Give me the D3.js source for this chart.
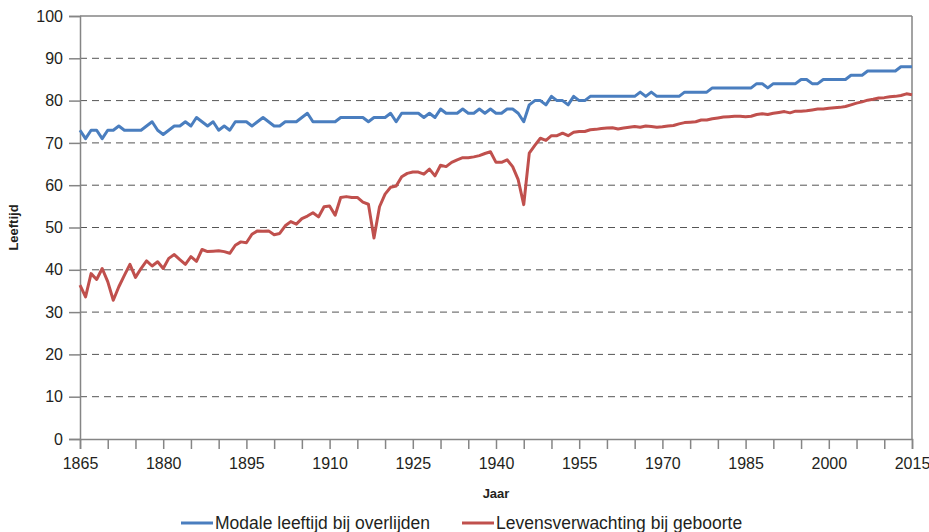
<!DOCTYPE html>
<html>
<head>
<meta charset="utf-8">
<script src="https://cdn.jsdelivr.net/npm/d3@7"></script>
<style>
  body { margin: 0; background: #fff; }
  svg { display: block; font-family: "Liberation Sans", Arial, sans-serif; }
</style>
</head>
<body>
<svg id="chart" width="929" height="532"></svg>
<script>
// jaren 1865 - 2015
var firstYear = 1865;
var lastYear = 2015;

var modaleLeeftijd = [
  73, 71, 73, 73, 71, 73, 73, 74, 73, 73, // 1865-1874
  73, 73, 74, 75, 73, 72, 73, 74, 74, 75, // 1875-1884
  74, 76, 75, 74, 75, 73, 74, 73, 75, 75, // 1885-1894
  75, 74, 75, 76, 75, 74, 74, 75, 75, 75, // 1895-1904
  76, 77, 75, 75, 75, 75, 75, 76, 76, 76, // 1905-1914
  76, 76, 75, 76, 76, 76, 77, 75, 77, 77, // 1915-1924
  77, 77, 76, 77, 76, 78, 77, 77, 77, 78, // 1925-1934
  77, 77, 78, 77, 78, 77, 77, 78, 78, 77, // 1935-1944
  75, 79, 80, 80, 79, 81, 80, 80, 79, 81, // 1945-1954
  80, 80, 81, 81, 81, 81, 81, 81, 81, 81, // 1955-1964
  81, 82, 81, 82, 81, 81, 81, 81, 81, 82, // 1965-1974
  82, 82, 82, 82, 83, 83, 83, 83, 83, 83, // 1975-1984
  83, 83, 84, 84, 83, 84, 84, 84, 84, 84, // 1985-1994
  85, 85, 84, 84, 85, 85, 85, 85, 85, 86, // 1995-2004
  86, 86, 87, 87, 87, 87, 87, 87, 88, 88, // 2005-2014
  88                                      // 2015
];

var levensverwachting = [
  36.4, 33.6, 39.1, 37.7, 40.3, 37.2, 32.8, 36.0, 38.7, 41.3, // 1865-1874
  38.2, 40.3, 42.1, 40.9, 41.9, 40.3, 42.7, 43.6, 42.4, 41.3, // 1875-1884
  43.1, 42.0, 44.8, 44.3, 44.4, 44.5, 44.3, 43.9, 45.8, 46.6, // 1885-1894
  46.4, 48.4, 49.2, 49.1, 49.2, 48.3, 48.6, 50.4, 51.4, 50.8, // 1895-1904
  52.1, 52.7, 53.5, 52.5, 54.9, 55.1, 52.9, 57.1, 57.3, 57.1, // 1905-1914
  57.1, 56.0, 55.5, 47.5, 54.9, 57.9, 59.5, 59.8, 62.0, 62.8, // 1915-1924
  63.1, 63.1, 62.6, 63.8, 62.2, 64.7, 64.4, 65.4, 66.0, 66.5, // 1925-1934
  66.5, 66.7, 67.0, 67.5, 67.9, 65.4, 65.4, 66.0, 64.4, 61.3, // 1935-1944
  55.4, 67.6, 69.4, 71.1, 70.6, 71.7, 71.7, 72.3, 71.7, 72.5, // 1945-1954
  72.7, 72.7, 73.1, 73.2, 73.4, 73.5, 73.6, 73.3, 73.5, 73.7, // 1955-1964
  73.9, 73.7, 74.0, 73.9, 73.7, 73.8, 74.0, 74.1, 74.5, 74.8, // 1965-1974
  74.9, 75.0, 75.4, 75.4, 75.7, 75.9, 76.1, 76.2, 76.3, 76.3, // 1975-1984
  76.2, 76.3, 76.7, 76.9, 76.7, 77.0, 77.2, 77.4, 77.1, 77.5, // 1985-1994
  77.5, 77.6, 77.8, 78.0, 78.0, 78.2, 78.3, 78.4, 78.6, 79.0, // 1995-2004
  79.4, 79.7, 80.1, 80.3, 80.6, 80.7, 80.9, 81.0, 81.2, 81.6, // 2005-2014
  81.4                                                        // 2015
];

var xTickLabels = [1865, 1880, 1895, 1910, 1925, 1940, 1955, 1970, 1985, 2000, 2015];
var yTicks = [0, 10, 20, 30, 40, 50, 60, 70, 80, 90, 100];
var seriesNames = ["Modale leeftijd bij overlijden", "Levensverwachting bij geboorte"];
var seriesColors = ["#4a7ebf", "#c0504d"];

var margin = { top: 16, right: 17, bottom: 93, left: 80 };
var svg = d3.select("#chart");
var width = +svg.attr("width");
var height = +svg.attr("height");

var x = d3.scaleLinear()
  .domain([firstYear, lastYear])
  .range([margin.left, width - margin.right]);

var y = d3.scaleLinear()
  .domain([0, 100])
  .range([height - margin.bottom, margin.top]);

var axisColor = "#858585";
var textColor = "#231f20";

// gridlines (dashed)
svg.append("g")
  .selectAll("line")
  .data(yTicks.filter(d => d > 0 && d < 100))
  .enter()
  .append("line")
  .attr("x1", x(firstYear))
  .attr("x2", x(lastYear))
  .attr("y1", d => y(d))
  .attr("y2", d => y(d))
  .attr("stroke", "#555")
  .attr("stroke-width", 1)
  .attr("stroke-dasharray", "7,5");

// top and right border
svg.append("line")
  .attr("x1", x(firstYear)).attr("x2", x(lastYear))
  .attr("y1", y(100)).attr("y2", y(100))
  .attr("stroke", axisColor).attr("stroke-width", 1.5);
svg.append("line")
  .attr("x1", x(lastYear)).attr("x2", x(lastYear))
  .attr("y1", y(100)).attr("y2", y(0))
  .attr("stroke", axisColor).attr("stroke-width", 1.5);

// axes
var xTickValues = d3.range(firstYear, lastYear + 1, 5);
var xAxis = d3.axisBottom(x)
  .tickValues(xTickValues)
  .tickSize(10)
  .tickFormat(d => xTickLabels.includes(d) ? d : "");

var yAxis = d3.axisLeft(y)
  .tickValues(yTicks)
  .tickSize(11)
  .tickPadding(6);

var gx = svg.append("g")
  .attr("transform", `translate(0,${y(0)})`)
  .call(xAxis);
var gy = svg.append("g")
  .attr("transform", `translate(${x(firstYear)},0)`)
  .call(yAxis);

[gx, gy].forEach(g => {
  g.select(".domain").attr("stroke", axisColor).attr("stroke-width", 1.5);
  g.selectAll(".tick line").attr("stroke", axisColor).attr("stroke-width", 1.5);
  g.selectAll(".tick text")
    .attr("fill", textColor)
    .style("font-size", "16px")
    .style("font-family", "'Liberation Sans', Arial, sans-serif");
});
gx.selectAll(".tick text").attr("dy", "1.05em");

// axis labels
svg.append("text")
  .attr("transform", "rotate(-90)")
  .attr("x", -(y(0) + y(100)) / 2)
  .attr("y", 18)
  .attr("text-anchor", "middle")
  .attr("fill", textColor)
  .style("font-size", "13px")
  .style("font-weight", "bold")
  .text("Leeftijd");

svg.append("text")
  .attr("x", (x(firstYear) + x(lastYear)) / 2)
  .attr("y", 498)
  .attr("text-anchor", "middle")
  .attr("fill", textColor)
  .style("font-size", "13px")
  .style("font-weight", "bold")
  .text("Jaar");

// lines
var years = d3.range(firstYear, lastYear + 1);
var line = d3.line()
  .x((d, i) => x(years[i]))
  .y(d => y(d));

[modaleLeeftijd, levensverwachting].forEach((series, i) => {
  svg.append("path")
    .datum(series)
    .attr("fill", "none")
    .attr("stroke", seriesColors[i])
    .attr("stroke-width", 3)
    .attr("stroke-linejoin", "round")
    .attr("d", line);
});

// legend
var legendX = [181, 462];
seriesNames.forEach((name, i) => {
  var lg = svg.append("g").attr("transform", `translate(${legendX[i]},523)`);
  lg.append("line")
    .attr("x1", 0).attr("x2", 32)
    .attr("y1", 0).attr("y2", 0)
    .attr("stroke", seriesColors[i])
    .attr("stroke-width", 3);
  lg.append("text")
    .attr("x", 34)
    .attr("y", 6)
    .attr("fill", textColor)
    .style("font-size", "17.5px")
    .text(name);
});
</script>
</body>
</html>
